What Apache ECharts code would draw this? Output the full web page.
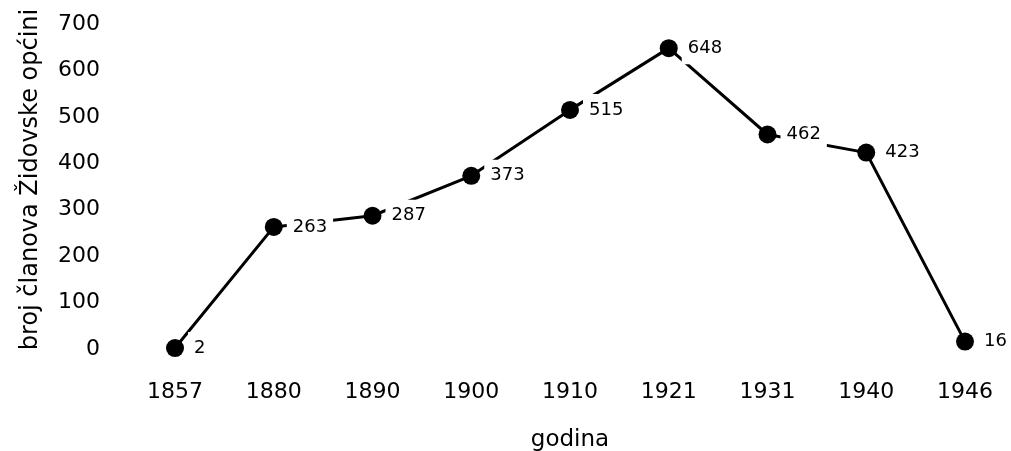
<!DOCTYPE html>
<html>
<head>
<meta charset="utf-8">
<script src="https://cdn.jsdelivr.net/npm/echarts@6/dist/echarts.min.js"></script>
<style>
html, body { margin: 0; padding: 0; background: #fff; }
#main { width: 1011px; height: 451px; }
</style>
</head>
<body>
<div id="main"></div>
<script>
var years = ['1857', '1880', '1890', '1900', '1910', '1921', '1931', '1940', '1946'];
var members = [2, 263, 287, 373, 515, 648, 462, 423, 16];
var yTicks = [0, 100, 200, 300, 400, 500, 600, 700];

var font = '"DejaVu Sans", "Liberation Sans", sans-serif';

var options = {
    backgroundColor: '#fff',
    animation: false,
    grid: {
        left: 175,
        right: 46,
        top: 24,
        bottom: 102,
        outerBoundsMode: 'none'
    },
    xAxis: {
        type: 'category',
        data: years,
        boundaryGap: false,
        name: 'godina',
        nameLocation: 'middle',
        nameGap: 80,
        nameTextStyle: { fontFamily: font, fontSize: 23, color: '#000' },
        axisLine: { show: false },
        axisTick: { show: false },
        axisLabel: { fontFamily: font, fontSize: 22, color: '#000', margin: 32 }
    },
    yAxis: {
        type: 'value',
        min: yTicks[0],
        max: yTicks[yTicks.length - 1],
        interval: 100,
        name: 'broj članova Židovske općini',
        nameLocation: 'middle',
        nameGap: 132,
        nameTextStyle: { fontFamily: font, fontSize: 24, color: '#000', padding: [0, 0, 0, 14] },
        axisLine: { show: false },
        axisTick: { show: false },
        splitLine: { show: false },
        axisLabel: { fontFamily: font, fontSize: 22, color: '#000', margin: 75 }
    },
    series: [{
        type: 'line',
        data: members,
        symbol: 'circle',
        symbolSize: 18,
        itemStyle: { color: '#000' },
        lineStyle: { color: '#000', width: 3 },
        label: {
            show: true,
            position: 'right',
            distance: 4,
            fontFamily: font,
            fontSize: 18,
            color: '#000',
            backgroundColor: '#fff',
            padding: [7, 6]
        }
    }]
};

var chart = echarts.init(document.getElementById('main'));
chart.setOption(options);
</script>
</body>
</html>
